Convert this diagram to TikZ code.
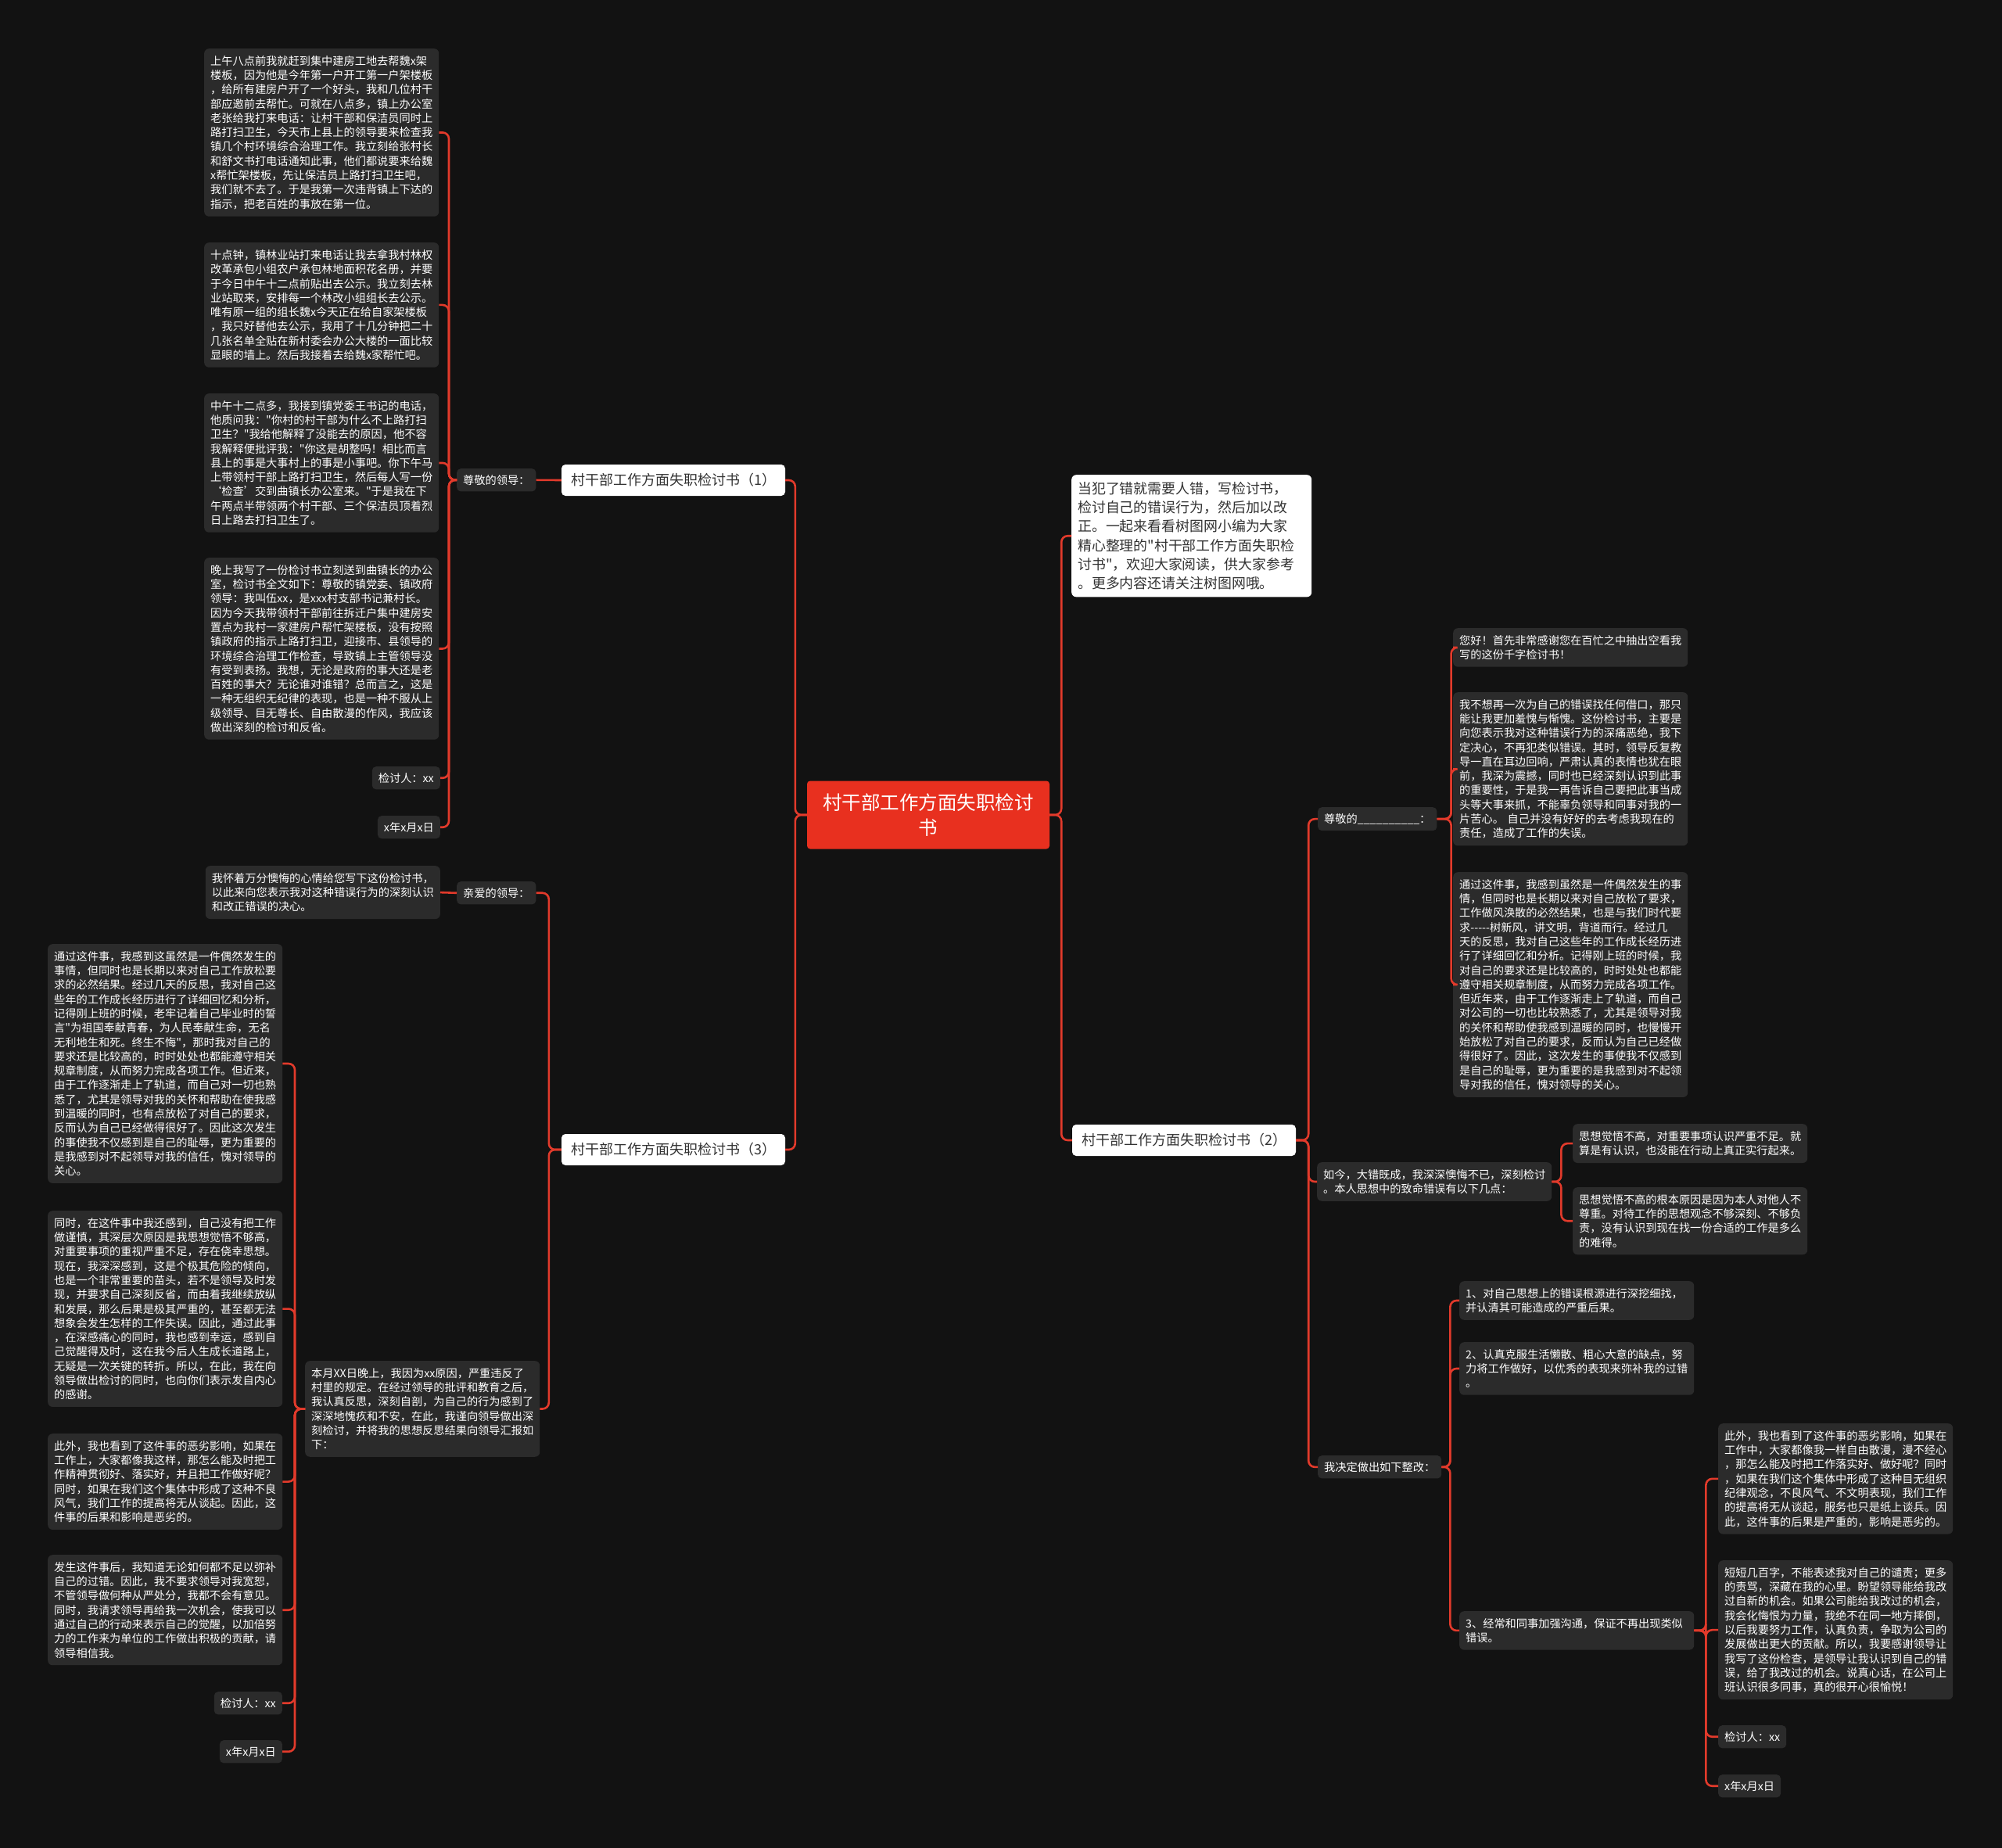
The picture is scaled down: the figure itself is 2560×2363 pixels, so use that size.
\documentclass[tikz,border=0pt]{standalone}
\usepackage{fontspec}
\newfontfamily\cjk{Noto Sans CJK SC}
\definecolor{bgcol}{HTML}{121212}
\definecolor{boxgray}{HTML}{2B2B2B}
\definecolor{linered}{HTML}{E23A2B}
\definecolor{rootred}{HTML}{E8301F}
\definecolor{topictext}{HTML}{333333}
\tikzset{
 conn/.style={draw=linered, line width=2.6pt, rounded corners=8pt},
 blk/.style={fill=boxgray, rounded corners=6pt, text=white, font=\cjk\fontsize{14.2}{18.3}\selectfont, align=left, inner xsep=8pt, inner ysep=9pt, text width=284pt, anchor=north west},
 lbl/.style={fill=boxgray, rounded corners=5pt, text=white, font=\cjk\fontsize{14.2}{18.3}\selectfont, inner xsep=8pt, inner ysep=8pt},
 topic/.style={fill=white, rounded corners=5pt, text=topictext, font=\cjk\fontsize{18}{24}\selectfont, minimum width=286pt, minimum height=40pt, inner sep=0pt},
 rootbox/.style={fill=rootred, rounded corners=4pt, text=white, font=\cjk\fontsize{24.5}{32.7}\selectfont, align=center, minimum width=310pt, minimum height=87pt, inner sep=0pt},
 introbox/.style={fill=white, rounded corners=6pt, text=topictext, font=\cjk\fontsize{17.9}{24.3}\selectfont, align=left, inner xsep=8pt, inner ysep=9pt, text width=291pt, anchor=north west}
}
\begin{document}
\begin{tikzpicture}[x=1pt,y=-1pt]
\useasboundingbox (0,0) rectangle (2560,2363);
\fill[bgcol] (0,0) rectangle (2560,2363);

% root
\node[rootbox] (root) at (1187,1042) {村干部工作方面失职检讨\\书};

% level 1
\node[topic] (n1) at (861,614) {村干部工作方面失职检讨书（1）};
\node[topic] (n3) at (861,1470) {村干部工作方面失职检讨书（3）};
\node[topic] (n2) at (1514,1458) {村干部工作方面失职检讨书（2）};
\node[introbox] (intro) at (1370,607) {当犯了错就需要人错，写检讨书，\\检讨自己的错误行为，然后加以改\\正。一起来看看树图网小编为大家\\精心整理的"村干部工作方面失职检\\讨书"，欢迎大家阅读，供大家参考\\。更多内容还请关注树图网哦。};

% branch (1)
\node[lbl, anchor=north west] (l1) at (584,599) {尊敬的领导：};
\node[blk] (b1) at (261,62) {上午八点前我就赶到集中建房工地去帮魏x架\\楼板，因为他是今年第一户开工第一户架楼板\\，给所有建房户开了一个好头，我和几位村干\\部应邀前去帮忙。可就在八点多，镇上办公室\\老张给我打来电话：让村干部和保洁员同时上\\路打扫卫生，今天市上县上的领导要来检查我\\镇几个村环境综合治理工作。我立刻给张村长\\和舒文书打电话通知此事，他们都说要来给魏\\x帮忙架楼板，先让保洁员上路打扫卫生吧，\\我们就不去了。于是我第一次违背镇上下达的\\指示，把老百姓的事放在第一位。};
\node[blk] (b2) at (261,310) {十点钟，镇林业站打来电话让我去拿我村林权\\改革承包小组农户承包林地面积花名册，并要\\于今日中午十二点前贴出去公示。我立刻去林\\业站取来，安排每一个林改小组组长去公示。\\唯有原一组的组长魏x今天正在给自家架楼板\\，我只好替他去公示，我用了十几分钟把二十\\几张名单全贴在新村委会办公大楼的一面比较\\显眼的墙上。然后我接着去给魏x家帮忙吧。};
\node[blk] (b3) at (261,503) {中午十二点多，我接到镇党委王书记的电话，\\他质问我："你村的村干部为什么不上路打扫\\卫生？"我给他解释了没能去的原因，他不容\\我解释便批评我："你这是胡整吗！相比而言\\县上的事是大事村上的事是小事吧。你下午马\\上带领村干部上路打扫卫生，然后每人写一份\\‘检查’交到曲镇长办公室来。"于是我在下\\午两点半带领两个村干部、三个保洁员顶着烈\\日上路去打扫卫生了。};
\node[blk] (b4) at (261,713) {晚上我写了一份检讨书立刻送到曲镇长的办公\\室，检讨书全文如下：尊敬的镇党委、镇政府\\领导：我叫伍xx，是xxx村支部书记兼村长。\\因为今天我带领村干部前往拆迁户集中建房安\\置点为我村一家建房户帮忙架楼板，没有按照\\镇政府的指示上路打扫卫，迎接市、县领导的\\环境综合治理工作检查，导致镇上主管领导没\\有受到表扬。我想，无论是政府的事大还是老\\百姓的事大？无论谁对谁错？总而言之，这是\\一种无组织无纪律的表现，也是一种不服从上\\级领导、目无尊长、自由散漫的作风，我应该\\做出深刻的检讨和反省。};
\node[lbl, anchor=north east] (s1) at (563,980) {检讨人：xx};
\node[lbl, anchor=north east] (d1) at (563,1043) {x年x月x日};

% branch (3)
\node[lbl, anchor=north west] (l3) at (584,1127) {亲爱的领导：};
\node[blk, anchor=north east] (bw) at (563,1107) {我怀着万分懊悔的心情给您写下这份检讨书，\\以此来向您表示我对这种错误行为的深刻认识\\和改正错误的决心。};
\node[blk] (bm) at (390,1740) {本月XX日晚上，我因为xx原因，严重违反了\\村里的规定。在经过领导的批评和教育之后，\\我认真反思，深刻自剖，为自己的行为感到了\\深深地愧疚和不安，在此，我谨向领导做出深\\刻检讨，并将我的思想反思结果向领导汇报如\\下：};
\node[blk] (bA) at (61,1207) {通过这件事，我感到这虽然是一件偶然发生的\\事情，但同时也是长期以来对自己工作放松要\\求的必然结果。经过几天的反思，我对自己这\\些年的工作成长经历进行了详细回忆和分析，\\记得刚上班的时候，老牢记着自己毕业时的誓\\言"为祖国奉献青春，为人民奉献生命，无名\\无利地生和死。终生不悔"，那时我对自己的\\要求还是比较高的，时时处处也都能遵守相关\\规章制度，从而努力完成各项工作。但近来，\\由于工作逐渐走上了轨道，而自己对一切也熟\\悉了，尤其是领导对我的关怀和帮助在使我感\\到温暖的同时，也有点放松了对自己的要求，\\反而认为自己已经做得很好了。因此这次发生\\的事使我不仅感到是自己的耻辱，更为重要的\\是我感到对不起领导对我的信任，愧对领导的\\关心。};
\node[blk] (bB) at (61,1548) {同时，在这件事中我还感到，自己没有把工作\\做谨慎，其深层次原因是我思想觉悟不够高，\\对重要事项的重视严重不足，存在侥幸思想。\\现在，我深深感到，这是个极其危险的倾向，\\也是一个非常重要的苗头，若不是领导及时发\\现，并要求自己深刻反省，而由着我继续放纵\\和发展，那么后果是极其严重的，甚至都无法\\想象会发生怎样的工作失误。因此，通过此事\\，在深感痛心的同时，我也感到幸运，感到自\\己觉醒得及时，这在我今后人生成长道路上，\\无疑是一次关键的转折。所以，在此，我在向\\领导做出检讨的同时，也向你们表示发自内心\\的感谢。};
\node[blk] (bC) at (61,1833) {此外，我也看到了这件事的恶劣影响，如果在\\工作上，大家都像我这样，那怎么能及时把工\\作精神贯彻好、落实好，并且把工作做好呢？\\同时，如果在我们这个集体中形成了这种不良\\风气，我们工作的提高将无从谈起。因此，这\\件事的后果和影响是恶劣的。};
\node[blk] (bD) at (61,1988) {发生这件事后，我知道无论如何都不足以弥补\\自己的过错。因此，我不要求领导对我宽恕，\\不管领导做何种从严处分，我都不会有意见。\\同时，我请求领导再给我一次机会，使我可以\\通过自己的行动来表示自己的觉醒，以加倍努\\力的工作来为单位的工作做出积极的贡献，请\\领导相信我。};
\node[lbl, anchor=north east] (s3) at (361,2163) {检讨人：xx};
\node[lbl, anchor=north east] (d3) at (361,2225) {x年x月x日};

% branch (2)
\node[lbl, anchor=north west] (r1) at (1685,1032) {尊敬的\_\_\_\_\_\_\_\_\_\_：};
\node[blk] (bR1) at (1858,803) {您好！首先非常感谢您在百忙之中抽出空看我\\写的这份千字检讨书！};
\node[blk] (bR2) at (1858,885) {我不想再一次为自己的错误找任何借口，那只\\能让我更加羞愧与惭愧。这份检讨书，主要是\\向您表示我对这种错误行为的深痛恶绝，我下\\定决心，不再犯类似错误。其时，领导反复教\\导一直在耳边回响，严肃认真的表情也犹在眼\\前，我深为震撼，同时也已经深刻认识到此事\\的重要性，于是我一再告诉自己要把此事当成\\头等大事来抓，不能辜负领导和同事对我的一\\片苦心。 自己并没有好好的去考虑我现在的\\责任，造成了工作的失误。};
\node[blk] (bR3) at (1858,1115) {通过这件事，我感到虽然是一件偶然发生的事\\情，但同时也是长期以来对自己放松了要求，\\工作做风涣散的必然结果，也是与我们时代要\\求-{}-{}-{}-{}-树新风，讲文明，背道而行。经过几\\天的反思，我对自己这些年的工作成长经历进\\行了详细回忆和分析。记得刚上班的时候，我\\对自己的要求还是比较高的，时时处处也都能\\遵守相关规章制度，从而努力完成各项工作。\\但近年来，由于工作逐渐走上了轨道，而自己\\对公司的一切也比较熟悉了，尤其是领导对我\\的关怀和帮助使我感到温暖的同时，也慢慢开\\始放松了对自己的要求，反而认为自己已经做\\得很好了。因此，这次发生的事使我不仅感到\\是自己的耻辱，更为重要的是我感到对不起领\\导对我的信任，愧对领导的关心。};
\node[blk] (r2) at (1684,1486) {如今，大错既成，我深深懊悔不已，深刻检讨\\。本人思想中的致命错误有以下几点：};
\node[blk] (bR4) at (2011,1437) {思想觉悟不高，对重要事项认识严重不足。就\\算是有认识，也没能在行动上真正实行起来。};
\node[blk] (bR5) at (2011,1518) {思想觉悟不高的根本原因是因为本人对他人不\\尊重。对待工作的思想观念不够深刻、不够负\\责，没有认识到现在找一份合适的工作是多么\\的难得。};
\node[lbl, anchor=north west] (r3) at (1685,1861) {我决定做出如下整改：};
\node[blk] (i1) at (1866,1638) {1、对自己思想上的错误根源进行深挖细找，\\并认清其可能造成的严重后果。};
\node[blk] (i2) at (1866,1716) {2、认真克服生活懒散、粗心大意的缺点，努\\力将工作做好，以优秀的表现来弥补我的过错\\。};
\node[blk] (i3) at (1866,2060) {3、经常和同事加强沟通，保证不再出现类似\\错误。};
\node[blk] (bR6) at (2197,1820) {此外，我也看到了这件事的恶劣影响，如果在\\工作中，大家都像我一样自由散漫，漫不经心\\，那怎么能及时把工作落实好、做好呢？同时\\，如果在我们这个集体中形成了这种目无组织\\纪律观念，不良风气、不文明表现，我们工作\\的提高将无从谈起，服务也只是纸上谈兵。因\\此，这件事的后果是严重的，影响是恶劣的。};
\node[blk] (bR7) at (2197,1995) {短短几百字，不能表述我对自己的谴责；更多\\的责骂，深藏在我的心里。盼望领导能给我改\\过自新的机会。如果公司能给我改过的机会，\\我会化悔恨为力量，我绝不在同一地方摔倒，\\以后我要努力工作，认真负责，争取为公司的\\发展做出更大的贡献。所以，我要感谢领导让\\我写了这份检查，是领导让我认识到自己的错\\误，给了我改过的机会。说真心话，在公司上\\班认识很多同事，真的很开心很愉悦！};
\node[lbl, anchor=north west] (sR) at (2197,2206) {检讨人：xx};
\node[lbl, anchor=north west] (dR) at (2197,2269) {x年x月x日};

% connectors
\foreach \c in {n1,n3} \draw[conn] (root.west) -- ++(-15,0) |- (\c.east);
\foreach \c in {intro,n2} \draw[conn] (root.east) -- ++(15,0) |- (\c.west);
\draw[conn] (n1.west) -- (l1.east);
\foreach \c in {b1,b2,b3,b4,s1,d1} \draw[conn] (l1.west) -- ++(-10,0) |- (\c.east);
\foreach \c in {l3,bm} \draw[conn] (n3.west) -- ++(-16,0) |- (\c.east);
\draw[conn] (l3.west) -- (bw.east);
\foreach \c in {bA,bB,bC,bD,s3,d3} \draw[conn] (bm.west) -- ++(-13,0) |- (\c.east);
\foreach \c in {r1,r2,r3} \draw[conn] (n2.east) -- ++(16,0) |- (\c.west);
\foreach \c in {bR1,bR2,bR3} \draw[conn] (r1.east) -- ++(18,0) |- (\c.west);
\foreach \c in {bR4,bR5} \draw[conn] (r2.east) -- ++(12,0) |- (\c.west);
\foreach \c in {i1,i2,i3} \draw[conn] (r3.east) -- ++(11,0) |- (\c.west);
\foreach \c in {bR6,bR7,sR,dR} \draw[conn] (i3.east) -- ++(15,0) |- (\c.west);
\end{tikzpicture}
\end{document}
